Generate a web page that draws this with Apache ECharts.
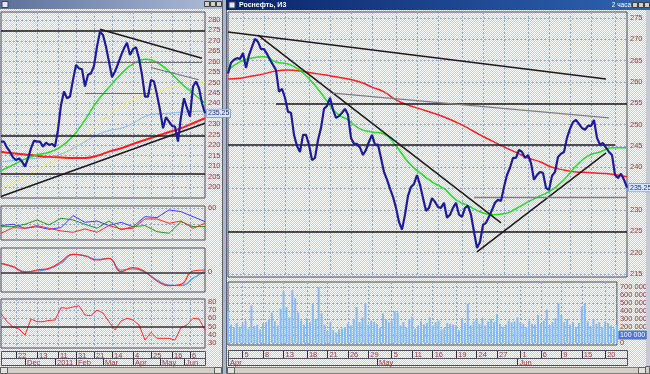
<!DOCTYPE html>
<html><head><meta charset="utf-8">
<script src="https://cdn.jsdelivr.net/npm/echarts@6/dist/echarts.min.js"></script>
<style>html,body{margin:0;padding:0;background:#fff}#c{width:650px;height:374px}</style>
</head><body><div id="c"></div>
<script>
// ---------- DATA ----------
// Left window (daily), one value per sampled bar
const leftPrice = [221.7,221.7,218.8,216.9,214.1,212.9,213.7,212.1,209.7,213.7,218.5,222.2,221.7,221.7,219.3,221.2,220.1,220.6,219.3,227.3,239.3,245.7,242.5,243.3,251.3,258.4,256.8,256.4,248.1,253.7,254.5,258.0,267.2,274.4,272.8,267.2,260.0,252.5,255.3,258.9,262.9,266.4,269.1,263.2,266.0,266.9,261.6,253.7,243.3,243.3,251.3,250.5,244.1,236.9,228.1,233.4,231.3,229.2,228.9,221.7,233.7,242.5,237.7,233.7,248.1,250.5,247.3,240.1,235.3];
// moving averages, every 4th bar
const leftGreen  = [207.8,210.5,213.3,215.3,216.6,219.3,224.4,232.1,240.9,247.7,254.1,258.9,261.2,259.6,255.3,249.7,244.9,240.1];
const leftYellow = [199.4,201.8,205.0,208.1,211.3,214.5,218.5,224.1,229.7,234.5,238.5,241.7,244.1,245.7,247.3,248.9,250.5,250.0];
const leftBlue   = [212.1,212.6,213.3,213.7,214.5,215.8,218.5,221.7,224.9,227.0,228.1,230.5,233.7,235.0,235.3,235.8,236.1,236.4];
const leftRed    = [216.9,216.1,215.5,214.9,214.4,214.1,213.9,213.9,214.9,216.9,218.5,220.6,222.5,224.4,226.3,228.1,230.5,232.9];
// indicator panels
const p1Blue  = [38.5,40.1,35.2,37.2,34.0,36.0,50.7,42.5,44.1,38.5,42.5,37.2,49.4,48.2,57.6,55.5,49.4,43.3];
const p1Red   = [29.1,36.0,35.2,38.5,35.2,32.0,30.3,34.4,30.3,38.5,34.4,35.2,46.6,46.6,41.3,44.1,35.2,41.3];
const p1Green = [37.2,37.2,40.1,45.4,39.3,47.4,45.4,40.1,35.2,44.1,33.2,37.2,38.5,31.1,29.1,43.3,37.2,37.2];
const p2Red   = [1.35,0.85,0,0.35,0.6,1.6,2.7,2.45,1.85,2.1,0.1,0.7,0.1,-1.3,-2.0,-1.8,0.2,0.35];
const p2Blue  = [1.35,0.85,0.1,0.2,0.5,1.35,2.7,2.5,1.95,2.1,0.35,0.5,0,-1.15,-1.9,-2.0,-0.9,0.2];
const p3Red   = [66.2,56.0,49.5,47.1,39.8,59.3,56.0,56.0,57.6,58.0,73.1,72.3,73.9,75.5,64.1,63.3,70.2,66.6,56.0,45.9,56.8,60.1,58.0,52.0,33.7,43.0,35.7,35.7,35.7,33.7,48.7,52.0,60.1,59.3,45.9];
// trend lines / levels: [[barFrom, valueFrom],[barTo, valueTo]]
const leftBlackLines = [[[0,274.9],[68,274.9]],[[0,224.4],[68,224.4]],[[0,206.5],[68,206.5]],[[33,275.5],[67,261.6]],[[0,195.4],[68,230.5]]];
const leftGrayLines  = [[[25,259.7],[67,259.7]],[[28,244.9],[50,244.9]],[[50,257.2],[66,251.3]]];
const leftDayIdx = [5,12,19,25,31,37,44,50,57,63];
const leftDayLbl = ['22','13','11','31','21','14','4','25','16','6'];
const leftMonIdx = [8,18,25,34,44,53,61];
const leftMonLbl = ['Dec','2011','Feb','Mar','Apr','May','Jun'];
const leftPriceTicks = [200,205,210,215,220,225,230,240,245,250,255,260,265,270,275,280];

// Right window (2 hours)
const rightPrice = [262.0,264.5,265.2,265.6,265.4,266.8,263.3,266.3,268.2,270.1,269.4,267.7,267.7,266.6,265.2,264.0,262.8,257.7,258.4,256.3,253.0,252.8,247.6,245.0,243.6,247.6,247.6,245.3,241.7,242.2,246.4,249.2,253.7,254.4,256.3,253.5,251.6,252.0,252.8,253.7,252.3,246.9,245.5,245.5,244.6,242.9,244.1,246.0,247.6,245.3,245.3,242.2,238.9,237.1,235.0,233.1,230.5,227.2,225.4,228.9,233.3,235.4,236.1,238.2,235.9,232.8,229.8,230.5,232.8,231.9,230.7,230.5,231.7,228.2,228.9,230.5,231.7,228.9,228.4,230.5,231.0,228.9,224.9,221.1,222.5,226.5,227.0,228.4,230.0,231.7,232.4,232.1,235.4,238.2,239.9,242.2,242.2,244.1,243.6,242.2,242.9,241.0,237.1,238.2,238.9,238.7,235.2,234.7,238.0,238.9,242.4,243.2,243.6,246.9,249.0,250.6,251.1,250.2,249.2,248.8,249.7,249.7,251.1,246.9,245.3,245.7,244.6,243.6,242.9,238.2,237.5,238.5,237.1,235.25];
const rightGreen = [262.8,264.7,265.6,265.9,264.7,264.2,262.8,260.0,256.5,252.8,251.1,249.0,248.3,247.8,245.0,241.3,238.7,236.6,235.0,232.4,231.0,229.6,228.9,229.1,230.3,231.9,233.3,234.7,237.1,240.3,242.7,243.6,244.6,244.6,244.6];
const rightRed = [260.7,260.9,261.4,261.9,262.6,262.8,262.6,262.1,261.7,261.2,260.7,260.0,258.8,257.7,255.8,254.6,253.7,252.8,251.8,250.6,249.2,247.6,246.2,244.8,243.5,242.2,241.3,240.0,239.4,238.9,238.8,238.6,238.4,237.9,237.8];
const rightVolume = [400,230,190,250,200,240,280,180,470,210,230,170,240,260,300,380,270,220,430,640,450,320,660,560,380,280,230,310,260,490,300,700,370,230,150,260,160,130,170,180,200,240,220,300,450,260,320,500,230,280,260,240,190,370,300,260,280,400,380,220,260,190,300,330,180,220,270,230,250,320,220,260,280,170,190,250,240,230,220,160,310,250,490,220,270,300,240,310,220,270,300,260,360,240,200,230,280,260,270,320,250,240,200,280,240,230,350,240,280,420,230,260,310,500,350,260,300,230,260,200,250,450,490,270,210,300,240,260,200,270,250,220,180,230].map(v => v * 1000);
const rightBlackLines = [[[0,271.7],[126,260.7]],[[10,271.0],[91,227.0]],[[83,220.2],[126,243.4]],[[16,255.0],[133,255.0]],[[0,245.2],[129,245.2]],[[0,224.8],[133,224.8]]];
const rightGrayLines  = [[[35,257.4],[127,251.6]],[[82,233.0],[133,233.0]]];
const rightDayIdx = [5,12,19,27,34,41,48,56,63,70,78,85,92,100,107,114,121,129];
const rightDayLbl = ['5','8','13','18','21','26','29','5','11','16','19','24','27','1','6','9','15','20'];
const rightMonIdx = [0,51,99];
const rightMonLbl = ['Apr','May','Jun'];
const rightPriceTicks = [215,220,225,230,240,245,250,255,260,265,270,275];
const volumeTicks = [0,200000,300000,400000,500000,600000,700000];
const lastPrice = 235.25;
const lastVolume = 100000;

// ---------- BUILD ----------
const NL = leftPrice.length, NR = rightPrice.length;
const cats = n => Array.from({length:n}, (_, i) => String(i));
function spread(vals, step, n){ const a = new Array(n).fill(null); vals.forEach((v,k)=>{ a[Math.min(k*step, n-1)] = v; }); return a; }

const FONT = 'Liberation Sans';
const LBL = '#8c3a3a';
const GRIDC = '#8ea6d6';

const pc = document.createElement('canvas'); pc.width = 2; pc.height = 2;
const cx = pc.getContext('2d');
cx.fillStyle = '#ffffff'; cx.fillRect(0,0,2,2);
cx.fillStyle = '#bccdee'; cx.fillRect(1,0,1,1); cx.fillRect(0,1,1,1);

function baseX(grid, n, idx){
  const s = new Set(idx);
  return {type:'category', gridIndex:grid, data:cats(n), boundaryGap:false,
    axisLine:{show:false}, axisTick:{show:false}, axisLabel:{show:false},
    splitLine:{show:true, interval:(i)=>s.has(i), lineStyle:{color:GRIDC, type:[2,2], width:1}}};
}
function rowX(grid, n, idx, lbl, offset, h){
  const m = new Map(idx.map((k,i)=>[k,lbl[i]]));
  return {type:'category', gridIndex:grid, data:cats(n), boundaryGap:false, position:'bottom', offset,
    axisLine:{show:false},
    axisTick:{show:true, length:h, interval:(i)=>m.has(i), lineStyle:{color:'#303040', width:1}},
    axisLabel:{show:true, interval:(i)=>m.has(i), formatter:(v)=>m.get(+v)||'', align:'left', padding:[0,0,0,2], margin:1,
      fontSize:7.5, fontFamily:FONT, color:LBL},
    splitLine:{show:false}};
}
function valY(grid, min, max, labels, ticks, fmt){
  return {type:'value', gridIndex:grid, position:'right', min, max,
    axisLine:{show:false}, axisTick:{show:false, customValues:ticks},
    axisLabel:{show:true, customValues:labels, margin:3, fontSize:7.5, fontFamily:FONT, color:LBL, formatter:fmt},
    splitLine:{show:ticks.length>0, lineStyle:{color:GRIDC, type:[2,2], width:1}}};
}
function lineS(xi, data, color, width, z, smooth){
  return {type:'line', xAxisIndex:xi, yAxisIndex:xi, data, symbol:'none', smooth:!!smooth, connectNulls:true,
    lineStyle:{color, width}, z, silent:true, animation:false};
}
function segS(xi, segs, color, width){
  return {type:'line', xAxisIndex:xi, yAxisIndex:xi, data:[], z:8, silent:true,
    markLine:{silent:true, animation:false, symbol:['none','none'], label:{show:false},
      lineStyle:{color, width, type:'solid'},
      data: segs.map(s => [{coord:[s[0][0], s[0][1]]}, {coord:[s[1][0], s[1][1]]}])}};
}
function boxS(xi, n, value, text, bg, fg){
  return {type:'line', xAxisIndex:xi, yAxisIndex:xi, data:new Array(n).fill(null), symbol:'none', z:9, silent:true,
    lineStyle:{color:'transparent'},
    markLine:{silent:true, animation:false, symbol:['none','none'],
      lineStyle:{color:'transparent', width:1, type:'solid'},
      label:{show:true, position:'end', distance:2, formatter:text, backgroundColor:bg, color:fg,
        borderColor:'#5070b0', borderWidth:0.5, padding:[1,1,0,1], fontSize:7, fontFamily:FONT},
      data:[[{coord:[0, value]}, {coord:[n-1, value]}]]}};
}

const gridStyle = {show:true, borderColor:'#4a4a58', borderWidth:1, backgroundColor:'transparent'};
const grids = [
  {left:1, top:12, width:204, height:186},
  {left:1, top:206, width:204, height:34},
  {left:1, top:248, width:204, height:44},
  {left:1, top:299, width:204, height:49},
  {left:228, top:12, width:399, height:265},
  {left:228, top:282, width:399, height:63}
].map(g => Object.assign({}, gridStyle, g));

const xAxes = [
  baseX(0, NL, leftDayIdx), baseX(1, NL, leftDayIdx), baseX(2, NL, leftDayIdx), baseX(3, NL, leftDayIdx),
  baseX(4, NR, rightDayIdx), baseX(5, NR, rightDayIdx),
  rowX(3, NL, leftDayIdx, leftDayLbl, 3, 7), rowX(3, NL, leftMonIdx, leftMonLbl, 10, 8),
  rowX(5, NR, rightDayIdx, rightDayLbl, 5, 8), rowX(5, NR, rightMonIdx, rightMonLbl, 13, 8)
];
const yAxes = [
  valY(0, 194.7, 283.8, leftPriceTicks, leftPriceTicks.concat([235])),
  valY(1, 20.9, 62.4, [60], [60,40]),
  valY(2, -2.95, 3.65, [0], []),
  valY(3, 23.9, 83.7, [30,40,50,60,70,80], [30,40,60,70,80]),
  valY(4, 214.3, 276.4, rightPriceTicks, rightPriceTicks.concat([235])),
  valY(5, -25000, 762500, volumeTicks, volumeTicks.concat([100000]), v => v === 0 ? '0' : (v/1000) + ' 000')
];

const series = [
  // left main
  lineS(0, spread(leftYellow, 4, NL), '#f2ee5c', 1, 3, true),
  lineS(0, spread(leftBlue, 4, NL), '#78bcff', 1, 3, true),
  lineS(0, spread(leftRed, 4, NL), '#ff1e1e', 2, 3, true),
  lineS(0, spread(leftGreen, 4, NL), '#1ee01e', 1.5, 3, true),
  lineS(0, leftPrice, '#1c1c9a', 2.2, 5, false),
  segS(0, leftBlackLines, '#1a1a1a', 1.6),
  segS(0, leftGrayLines, '#6a6a70', 1),
  boxS(0, NL, lastPrice, String(lastPrice), '#d8e6fb', '#203060'),
  // left indicator panels
  lineS(1, spread(p1Blue, 4, NL), '#3c3cff', 1, 3, false),
  lineS(1, spread(p1Green, 4, NL), '#1a9a1a', 1, 3, false),
  lineS(1, spread(p1Red, 4, NL), '#ff2a2a', 1, 4, false),
  segS(2, [[[0,0],[NL-1,0]]], '#303038', 1.5),
  lineS(2, spread(p2Blue, 4, NL), '#3aa0ff', 1.2, 3, true),
  lineS(2, spread(p2Red, 4, NL), '#ff2a2a', 1.2, 4, true),
  segS(3, [[[0,50],[NL-1,50]]], '#303038', 1.5),
  lineS(3, spread(p3Red, 2, NL), '#ff2a2a', 1, 4, false),
  // right main
  lineS(4, spread(rightRed, 4, NR), '#ff1e1e', 1.5, 3, true),
  lineS(4, spread(rightGreen, 4, NR), '#1ee01e', 1.5, 3, true),
  lineS(4, rightPrice, '#1c1c9a', 2.2, 5, false),
  segS(4, rightBlackLines, '#1a1a1a', 1.5),
  segS(4, rightGrayLines, '#7c7c84', 1.3),
  boxS(4, NR, lastPrice, String(lastPrice), '#d8e6fb', '#203060'),
  // volume
  {type:'bar', xAxisIndex:5, yAxisIndex:5, data:rightVolume, barWidth:2, itemStyle:{color:'#86b8f2'}, z:3, silent:true, animation:false},
  boxS(5, NR, lastVolume, '100 000', '#4a78d0', '#ffffff')
];

const T = (x, y, text, fill, size, align, weight) => ({type:'text', x, y, z:20, silent:true,
  style:{text, fill, fontSize:size, fontFamily:FONT, fontWeight:weight || 'normal', verticalAlign:'top', align:align || 'left'}});
const R = (x, y, w, h, fill, stroke, z) => ({type:'rect', z: z || 1, silent:true, shape:{x, y, width:w, height:h},
  style:{fill: fill || 'none', stroke: stroke || null, lineWidth:1}});
const grad = (a, b) => ({type:'linear', x:0, y:0, x2:1, y2:0, colorStops:[{offset:0, color:a},{offset:1, color:b}]});

const graphic = [
  // window frames
  R(222, 0, 4, 374, '#aab6cc', null, 1),
  R(222.5, 0.5, 0, 373, null, '#5a6070', 2),
  R(226.5, 0.5, 0, 373, null, '#5a6070', 2),
  R(646, 0, 4, 374, '#c4cad8', null, 1),
  // title bars
  R(0, 0, 222, 9, grad('#5c6f98','#aebddb'), null, 2),
  R(2, 1.5, 6, 6, '#e8e8f0', '#404060', 3),
  R(204.5, 1.5, 5, 5, '#d4d0c8', '#404040', 3),
  R(210.5, 1.5, 5, 5, '#d4d0c8', '#404040', 3),
  R(216.5, 1.5, 5, 5, '#d4d0c8', '#404040', 3),
  R(226, 0, 424, 10, grad('#0a246a','#2f63b0'), null, 2),
  R(229, 2, 6, 6, '#e8e8f0', '#404060', 3),
  T(239, 1.5, 'Роснефть, И3', '#ffffff', 7, 'left', 'bold'),
  T(631, 2, '2 часа', '#ffffff', 6.5, 'right'),
  R(632.5, 2.5, 5, 5, '#d4d0c8', '#404040', 3),
  R(638.5, 2.5, 5, 5, '#d4d0c8', '#404040', 3),
  R(644.5, 2.5, 5, 5, '#d4d0c8', '#404040', 3),
  // date rows
  R(1.5, 351.5, 204, 7, null, '#505060', 3),
  R(1.5, 358.5, 204, 7, null, '#505060', 3),
  R(228.5, 350.5, 399, 8, null, '#505060', 3),
  R(228.5, 358.5, 399, 7, null, '#505060', 3),
  // scroll bars
  R(0.5, 367.5, 221, 6, '#d4d0c8', '#808080', 3),
  R(0.5, 367.5, 7, 6, '#e4e2dc', '#606060', 4),
  R(214.5, 367.5, 7, 6, '#e4e2dc', '#606060', 4),
  R(227.5, 367.5, 418, 6, '#d4d0c8', '#808080', 3),
  R(227.5, 367.5, 7, 6, '#e4e2dc', '#606060', 4),
  R(638.5, 367.5, 7, 6, '#e4e2dc', '#606060', 4),
  R(645.5, 366.5, 4, 7, '#d4d0c8', '#606060', 4)
];

const chart = echarts.init(document.getElementById('c'), null, {renderer:'canvas'});
chart.setOption({
  animation:false,
  backgroundColor:{image:pc, repeat:'repeat'},
  grid:grids, xAxis:xAxes, yAxis:yAxes, series, graphic
});
</script></body></html>
